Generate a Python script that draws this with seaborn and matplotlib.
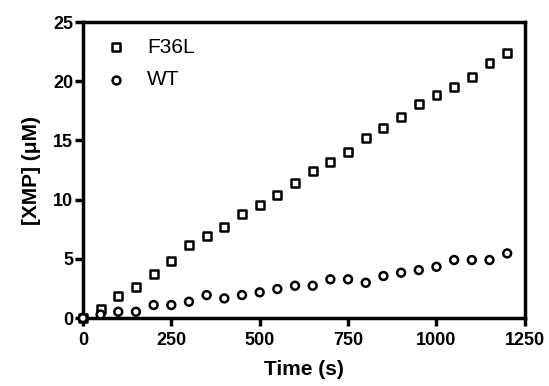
import numpy as np
import pandas as pd
import matplotlib
matplotlib.use("Agg")
import matplotlib.pyplot as plt
import seaborn as sns

# time points (s)
time_s = [0, 50, 100, 150, 200, 250, 300, 350, 400, 450, 500, 550, 600,
          650, 700, 750, 800, 850, 900, 950, 1000, 1050, 1100, 1150, 1200]
# [XMP] (uM)
f36l = [0.0, 0.75, 1.88, 2.64, 3.69, 4.79, 6.14, 6.93, 7.71, 8.76, 9.52, 10.36, 11.40,
        12.42, 13.15, 14.05, 15.2, 16.05, 17.0, 18.07, 18.83, 19.54, 20.38, 21.56, 22.35]
wt = [0.0, 0.3, 0.53, 0.53, 1.10, 1.10, 1.38, 1.94, 1.66, 1.94, 2.17, 2.45, 2.73,
      2.73, 3.27, 3.27, 2.98, 3.55, 3.83, 4.05, 4.33, 4.90, 4.90, 4.90, 5.46]

df = pd.DataFrame({
    "time": time_s * 2,
    "xmp": f36l + wt,
    "variant": ["F36L"] * len(time_s) + ["WT"] * len(time_s),
})

sns.set_style("white", {"text.color": "black", "axes.labelcolor": "black",
                        "xtick.color": "black", "ytick.color": "black",
                        "axes.edgecolor": "black"})
plt.rcParams['font.family'] = ['Liberation Sans', 'DejaVu Sans']

fig = plt.figure(figsize=(5.49, 3.86), dpi=100)
ax = fig.add_axes([0.151, 0.176, 0.805, 0.767])

sns.scatterplot(data=df, x="time", y="xmp", style="variant",
                markers={"F36L": "s", "WT": "o"}, color="black",
                facecolor="white", edgecolor="black", linewidth=1.8,
                s=32, ax=ax, legend=False, clip_on=False, zorder=3)

ax.set_xlim(0, 1250)
ax.set_ylim(0, 25)
ax.set_xticks([0, 250, 500, 750, 1000, 1250])
ax.set_yticks([0, 5, 10, 15, 20, 25])
for lab in ax.get_xticklabels() + ax.get_yticklabels():
    lab.set_fontweight("bold")
    lab.set_fontsize(13)
ax.tick_params(axis="x", direction="out", length=6, width=2.5, pad=4, bottom=True)
ax.tick_params(axis="y", direction="out", length=6, width=2.5, pad=1, left=True)
for sp in ax.spines.values():
    sp.set_linewidth(2.5)
    sp.set_color("black")

ax.set_xlabel("Time (s)", fontsize=15, fontweight="bold", labelpad=8)
ax.set_ylabel("[XMP] (\u03bcM)", fontsize=15, fontweight="bold", labelpad=9)

# legend built from the same marker styles
h1 = ax.scatter([], [], marker="s", s=32, facecolor="white", edgecolor="black", linewidth=1.8)
h2 = ax.scatter([], [], marker="o", s=32, facecolor="white", edgecolor="black", linewidth=1.8)
ax.legend([h1, h2], ["F36L", "WT"], loc="upper left", frameon=False,
          fontsize=15, handlelength=1.0, handletextpad=1.0, labelspacing=0.65,
          borderaxespad=0, bbox_to_anchor=(0.032, 0.975))

fig.savefig("out.png", dpi=100)
